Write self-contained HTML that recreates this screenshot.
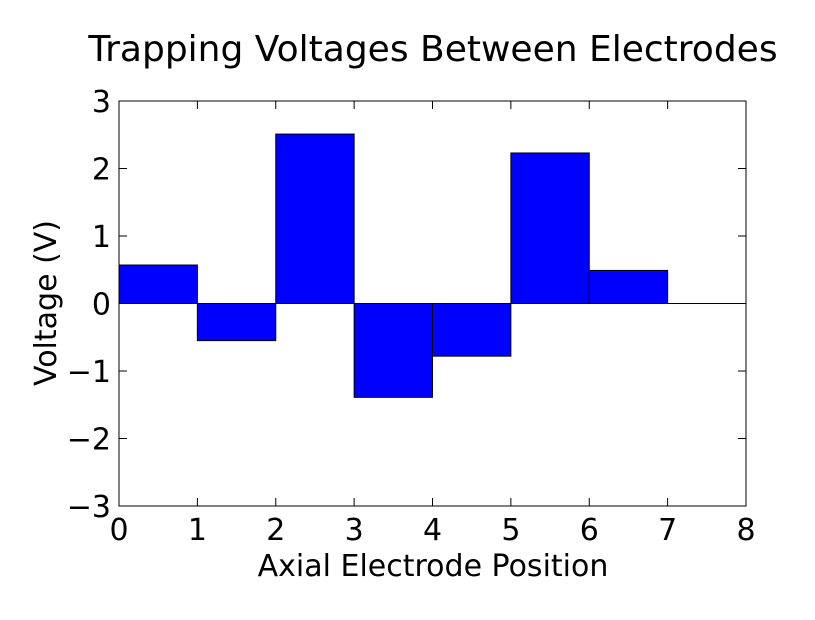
<!DOCTYPE html>
<html><head><meta charset="utf-8"><style>
body{margin:0;background:#fff;}
svg text{font-family:"DejaVu Sans","Liberation Sans",sans-serif;fill:#000;}
</style></head><body>
<svg id="chart" width="815" height="615" xmlns="http://www.w3.org/2000/svg">
<rect width="815" height="615" fill="#fff"/>
<text x="433" y="61" font-size="36" text-anchor="middle">Trapping Voltages Between Electrodes</text>
<text x="433" y="576" font-size="30" text-anchor="middle">Axial Electrode Position</text>
<text x="0" y="0" font-size="30" text-anchor="middle" transform="translate(56,303) rotate(-90)">Voltage (V)</text>
<g id="bars"></g>
<g id="ticks"></g>
<rect x="119" y="101" width="627" height="405" fill="none" stroke="#000" stroke-width="1"/>
</svg>
<script>
const positions = [0,1,2,3,4,5,6,7];
const voltages = [0.57,-0.55,2.51,-1.39,-0.78,2.23,0.49,0];
const xTicks = [0,1,2,3,4,5,6,7,8];
const yTicks = [3,2,1,0,-1,-2,-3];
const L=119,R=746,T=101,B=506;
const xs=v=>L+(v-0)/8*(R-L);
const ys=v=>T+(3-v)/6*(B-T);
const NS="http://www.w3.org/2000/svg";
const bars=document.getElementById('bars'), ticks=document.getElementById('ticks');
function mk(tag,attrs,parent){const e=document.createElementNS(NS,tag);for(const k in attrs)e.setAttribute(k,attrs[k]);parent.appendChild(e);return e;}
positions.forEach((p,i)=>{
  const v=voltages[i];
  const y0=ys(Math.max(v,0)), y1=ys(Math.min(v,0));
  const r=mk('rect',{x:xs(p),y:y0,width:xs(p+1)-xs(p),height:Math.max(y1-y0,0.01),fill:'#0000ff',stroke:'#000','stroke-width':1},bars);
  
  
});
xTicks.forEach(t=>{
  const x=xs(t);
  mk('line',{x1:x,x2:x,y1:B,y2:B-8,stroke:'#000'},ticks);
  mk('line',{x1:x,x2:x,y1:T,y2:T+8,stroke:'#000'},ticks);
  const tx=mk('text',{x:x,y:B+34,'font-size':30,'text-anchor':'middle'},ticks);
  tx.textContent=t;
  
  
});
yTicks.forEach(t=>{
  const y=ys(t);
  mk('line',{x1:L,x2:L+8,y1:y,y2:y,stroke:'#000'},ticks);
  mk('line',{x1:R,x2:R-8,y1:y,y2:y,stroke:'#000'},ticks);
  const tx=mk('text',{x:L-8,y:y+11,'font-size':30,'text-anchor':'end'},ticks);
  tx.textContent=t<0?'\u2212'+(-t):t;
  
  
});
</script>
</body></html>
